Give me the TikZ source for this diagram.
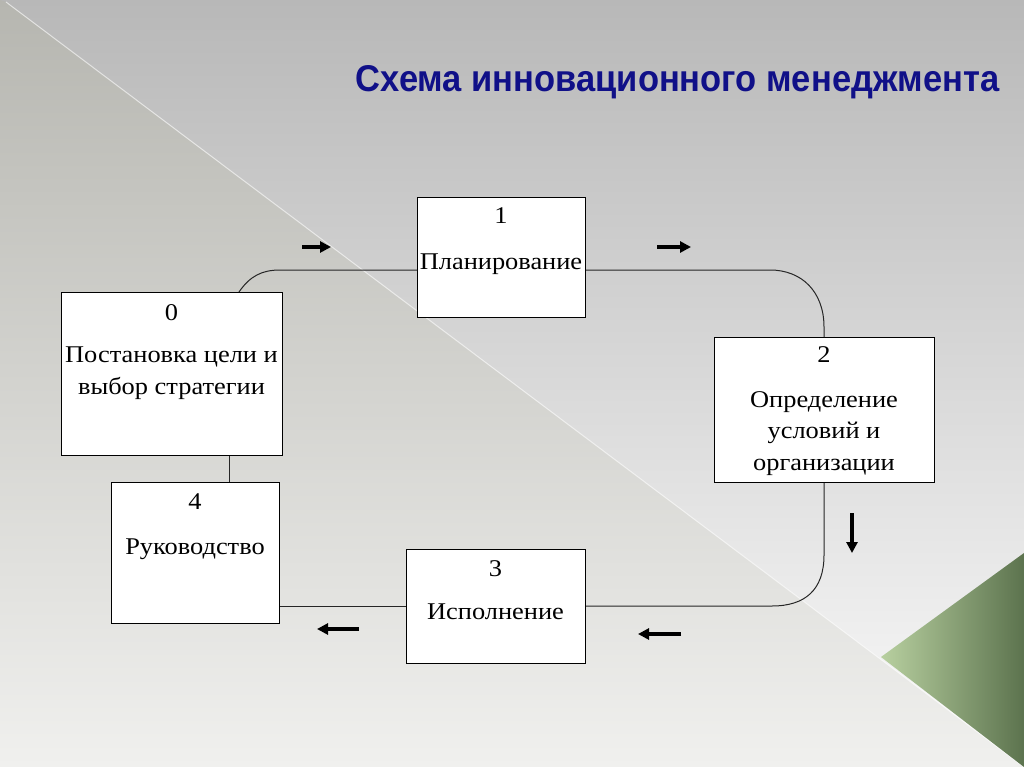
\documentclass[tikz,border=0pt]{standalone}
\usepackage{fontspec}
\setmainfont{Liberation Serif}
\newfontfamily\titlefont{Liberation Sans}
\usetikzlibrary{arrows.meta}
\definecolor{titleblue}{RGB}{16,16,136}
\definecolor{bgtop}{RGB}{184,184,184}
\definecolor{bgbot}{RGB}{250,250,250}
\definecolor{lefttop}{RGB}{182,182,176}
\definecolor{leftbot}{RGB}{240,240,238}
\definecolor{greenlight}{RGB}{184,208,160}
\definecolor{greendark}{RGB}{92,115,78}
\begin{document}
\begin{tikzpicture}[x=1pt,y=-1pt,
  box/.style={draw=black, fill=white, line width=1pt, inner sep=0pt, anchor=north west},
  conn/.style={draw=black!85, line width=1pt},
  flow/.style={line width=4pt, -{Triangle[length=11pt,width=11pt]}},
  lbl/.style={font=\fontsize{24}{31.5}\selectfont, align=center, inner sep=0pt, anchor=base}]
\useasboundingbox (0,0) rectangle (1024,767);
% background
\shade[top color=bgtop, bottom color=bgbot] (0,0) rectangle (1024,767);
\shade[top color=lefttop, bottom color=leftbot] (0,0) -- (6,2) -- (1024,767) -- (0,767) -- cycle;
\draw[white, opacity=0.6, line width=1pt] (6,2) -- (1024,767);
\shade[left color=greenlight, right color=greendark] (881,657) -- (1024,553) -- (1024,767) -- cycle;
% title
\node[font=\titlefont\bfseries\fontsize{34.5}{38}\selectfont, text=titleblue, anchor=base, inner sep=0pt] (title) at (677.5,92) {\scalebox{1}[1.08]{Схема инновационного менеджмента}};
% boxes
\node[box, minimum width=221pt, minimum height=163pt] (b0) at (61,292) {};
\node[box, minimum width=168pt, minimum height=120pt] (b1) at (417,197) {};
\node[box, minimum width=220pt, minimum height=145pt] (b2) at (714,337) {};
\node[box, minimum width=179pt, minimum height=114pt] (b3) at (406,549) {};
\node[box, minimum width=168pt, minimum height=141pt] (b4) at (111,482) {};
% texts
\node[lbl] (t0n) at (171.5,320) {\scalebox{1.1}[1]{0}};
\node[lbl, anchor=north] (t0) at (171.5,347) {\scalebox{1.1}[1]{Постановка цели и}\\\scalebox{1.1}[1]{выбор стратегии}};
\node[lbl] (t1n) at (501,223) {\scalebox{1.1}[1]{1}};
\node[lbl] (t1) at (501,269) {\scalebox{1.1}[1]{Планирование}};
\node[lbl] (t2n) at (824,362) {\scalebox{1.1}[1]{2}};
\node[lbl, anchor=north] (t2) at (824,391) {\scalebox{1.1}[1]{Определение}\\\scalebox{1.1}[1]{условий и}\\\scalebox{1.1}[1]{организации}};
\node[lbl] (t3n) at (495.5,576) {\scalebox{1.1}[1]{3}};
\node[lbl] (t3) at (495.5,619) {\scalebox{1.1}[1]{Исполнение}};
\node[lbl] (t4n) at (195,509) {\scalebox{1.1}[1]{4}};
\node[lbl] (t4) at (195,554) {\scalebox{1.1}[1]{Руководство}};
% connectors
\coordinate (c0) at (239,292);
\coordinate (c1) at (280,270);
\coordinate (c2) at (585,270);
\coordinate (c3) at (770,270);
\coordinate (c4) at (824,327);
\coordinate (c5) at (824,555);
\coordinate (c6) at (772,606);
\coordinate (c7) at (585,606);
\draw[conn] (c0) .. controls (250,276) and (262,270) .. (c1) -- (b1.west |- c1);
\draw[conn] (b1.east |- c2) -- (c3) .. controls (802,270) and (824,292) .. (c4) -- (b2.north -| c4);
\draw[conn] (b2.south -| c5) -- (c5) .. controls (824,590) and (805,606) .. (c6) -- (b3.east |- c6);
\draw[conn] (b3.west |- c6) -- (b4.east |- c6);
\draw[conn] (b4.north -| 229,0) -- (b0.south -| 229,0);
% flow arrows
\coordinate (a1s) at (302,247); \coordinate (a1e) at (331,247);
\coordinate (a2s) at (657,247); \coordinate (a2e) at (691,247);
\coordinate (a3s) at (852,513); \coordinate (a3e) at (852,553);
\coordinate (a4s) at (359,629); \coordinate (a4e) at (317,629);
\coordinate (a5s) at (681,634); \coordinate (a5e) at (638,634);
\draw[flow] (a1s) -- (a1e);
\draw[flow] (a2s) -- (a2e);
\draw[flow] (a3s) -- (a3e);
\draw[flow] (a4s) -- (a4e);
\draw[flow] (a5s) -- (a5e);
\end{tikzpicture}
\end{document}
